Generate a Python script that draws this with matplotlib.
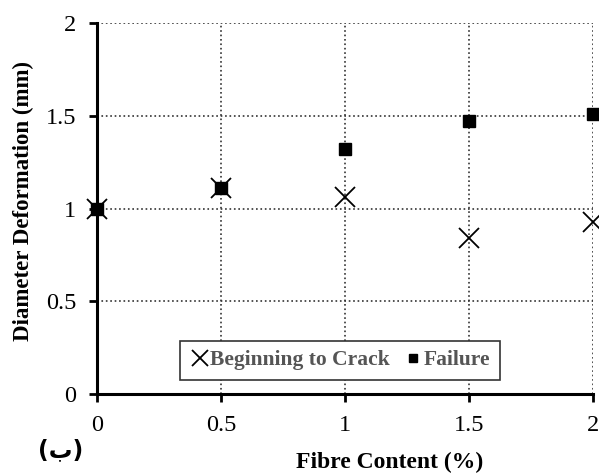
import numpy as np
import matplotlib.pyplot as plt

# data
fibre = [0, 0.5, 1.0, 1.5, 2.0]
crack = [1.00, 1.11, 1.06, 0.84, 0.93]
failure = [1.00, 1.11, 1.32, 1.47, 1.51]

xticks = [0, 0.5, 1, 1.5, 2]
xtick_labels = ['0', '0.5', '1', '1.5', '2']
yticks = [0, 0.5, 1, 1.5, 2]
ytick_labels = ['0', '0.5', '1', '1.5', '2']

plt.rcParams['font.family'] = ['Liberation Serif', 'DejaVu Serif']

fig = plt.figure(figsize=(5.99, 4.73), dpi=100)
ax = fig.add_axes([0.162, 0.167, 0.828, 0.784])

ax.plot(fibre, crack, linestyle='none', marker='x', markersize=15,
        markeredgewidth=1.3, color='black', label='Beginning to Crack',
        zorder=3, clip_on=False)
ax.plot(fibre, failure, linestyle='none', marker='s', markersize=8,
        color='black', label='Failure', zorder=4, clip_on=False)

ax.set_xlim(0, 2)
ax.set_ylim(0, 2)
ax.set_xticks(xticks)
ax.set_xticklabels(xtick_labels)
ax.set_yticks(yticks)
ax.set_yticklabels(ytick_labels)
ax.tick_params(labelsize=17.5, width=2, length=6, direction='out', pad=9)

ax.grid(True, linestyle=':', color='#333333', linewidth=1.2)
ax.set_axisbelow(True)
for s in ['top', 'right']:
    ax.spines[s].set_visible(False)
for s in ['left', 'bottom']:
    ax.spines[s].set_linewidth(2.2)

ax.set_ylabel('Diameter Deformation (mm)', fontsize=16.5, fontweight='bold')
ax.yaxis.set_label_coords(-0.128, 0.52)
ax.set_xlabel('Fibre Content (%)', fontsize=17, fontweight='bold')
ax.xaxis.set_label_coords(0.59, -0.155)

leg = ax.legend(loc='lower center', bbox_to_anchor=(0.49, 0.02), ncol=2,
                fancybox=False, framealpha=1, edgecolor='#333333',
                handletextpad=0.05, columnspacing=0.6, handlelength=0.9,
                prop={'size': 15.5, 'weight': 'bold'}, markerscale=0.75,
                borderpad=0.45, borderaxespad=0.3)
leg.get_frame().set_linewidth(1.2)
for t in leg.get_texts():
    t.set_color('#555555')

fig.text(0.102, 0.048, '(ب)', fontsize=17, fontweight='bold',
         family=['DejaVu Sans'], ha='center', va='center')

fig.savefig('out.png', dpi=100)
